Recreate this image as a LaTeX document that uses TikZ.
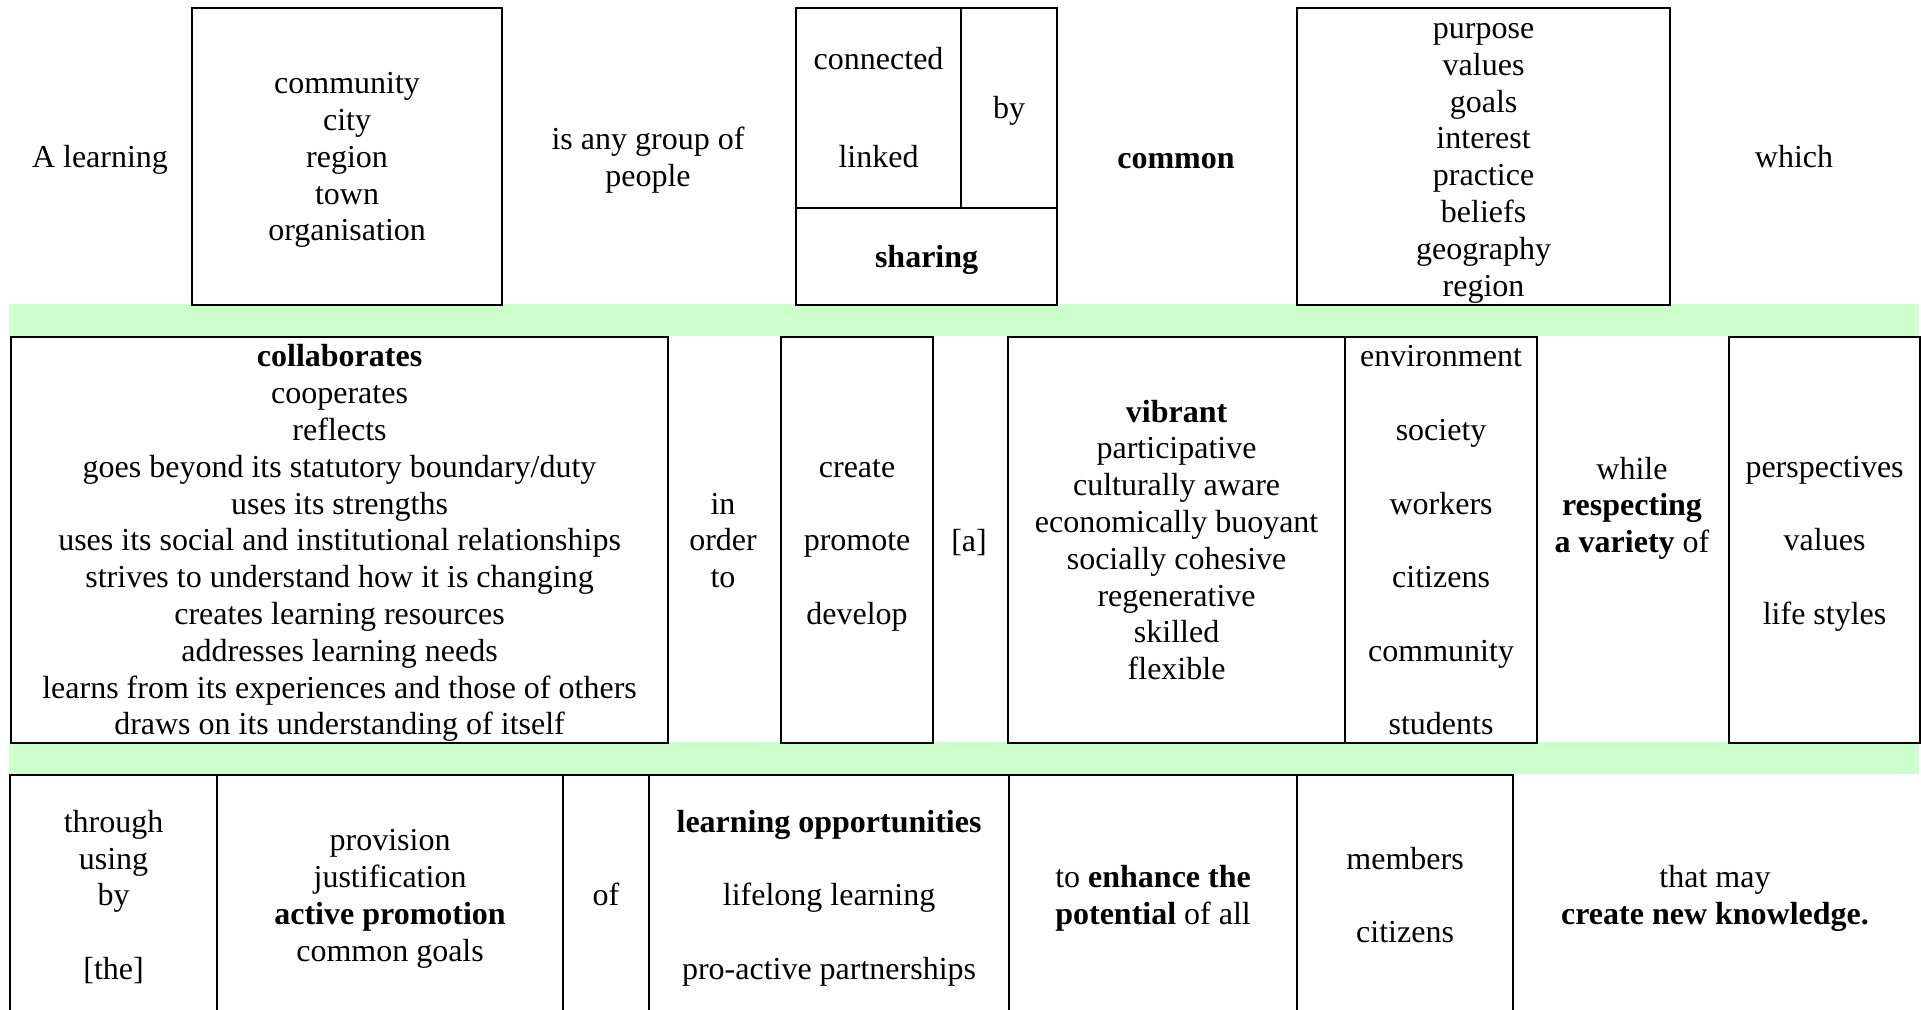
\documentclass[tikz,border=0pt]{standalone}
\usepackage{fontspec}
\setmainfont{Liberation Serif}
\definecolor{band}{HTML}{CCFFCC}
\newcommand{\wstrut}{\rule[-2.6pt]{0pt}{13.3pt}}
\begin{document}
\begin{tikzpicture}[x=0.375pt, y=-0.375pt,
    every node/.style={font=\fontsize{12}{13.8}\selectfont, align=center, inner sep=0pt,
      execute at begin node=\wstrut, execute at end node=\wstrut},
    cell/.style={draw, line width=0.8pt, anchor=north west},
    sz/.style 2 args={minimum width=#1*0.375pt, minimum height=#2*0.375pt}]
\useasboundingbox (0,0) rectangle (1921,1009);
\clip (0,0) rectangle (1921,1009);
\fill[white] (0,0) rectangle (1921,1009);
\fill[band] (9,304) rectangle (1919,336);
\fill[band] (9,742) rectangle (1919,774);
% first line
\node (a0) at (100,157) {A learning};
\node[cell, sz={310}{297}] (a1) at (191,7) {\wstrut community\\city\\region\\town\\organisation};
\node (a2) at (648,157) {\wstrut is any group of\\people};
\node[cell, sz={165}{200}] (a3) at (795,7) {\wstrut connected\\[23pt]linked};
\node[cell, sz={96}{200}] (a4) at (960,7) {by};
\node[cell, sz={261}{97}] (a5) at (795,207) {\textbf{sharing}};
\node (a6) at (1176,158) {\textbf{common}};
\node[cell, sz={373}{297}] (a7) at (1296,7) {\wstrut purpose\\values\\goals\\interest\\practice\\beliefs\\geography\\region};
\node (a8) at (1794,157) {which};
% second line
\node[cell, sz={657}{406}] (b0) at (10,336) {\wstrut\textbf{collaborates}\\cooperates\\reflects\\goes beyond its statutory boundary/duty\\uses its strengths\\uses its social and institutional relationships\\strives to understand how it is changing\\creates learning resources\\addresses learning needs\\learns from its experiences and those of others\\draws on its understanding of itself};
\node (b1) at (723,540) {\wstrut in\\order\\to};
\node[cell, sz={152}{406}] (b2) at (780,336) {\wstrut create\\[13.8pt]promote\\[13.8pt]develop};
\node (b3) at (969,541) {{[a]}};
\node[cell, sz={337}{406}] (b4) at (1007,336) {\wstrut\textbf{vibrant}\\participative\\culturally aware\\economically buoyant\\socially cohesive\\regenerative\\skilled\\flexible};
\node[cell, sz={192}{406}] (b5) at (1344,336) {\wstrut environment\\[13.8pt]society\\[13.8pt]workers\\[13.8pt]citizens\\[13.8pt]community\\[13.8pt]students};
\node (b6) at (1632,505) {\wstrut while\\\textbf{respecting}\\\textbf{a variety} of};
\node[cell, sz={191}{406}] (b7) at (1728,336) {\wstrut perspectives\\[13.8pt]values\\[13.8pt]life styles};
% third line
\node[cell, sz={207}{240}] (c0) at (9,774) {\wstrut through\\using\\by\\[13.8pt]{[the]}};
\node[cell, sz={346}{240}] (c1) at (216,774) {\wstrut provision\\justification\\\textbf{active promotion}\\common goals};
\node[cell, sz={86}{240}] (c2) at (562,774) {of};
\node[cell, sz={360}{240}] (c3) at (648,774) {\wstrut\textbf{learning opportunities}\\[13.8pt]lifelong learning\\[13.8pt]pro-active partnerships};
\node[cell, sz={288}{240}] (c4) at (1008,774) {\wstrut to \textbf{enhance the}\\\textbf{potential} of all};
\node[cell, sz={216}{240}] (c5) at (1296,774) {\wstrut members\\[13.8pt]citizens};
\node (c6) at (1715,895) {\wstrut that may\\\textbf{create new knowledge.}};
\end{tikzpicture}
\end{document}
